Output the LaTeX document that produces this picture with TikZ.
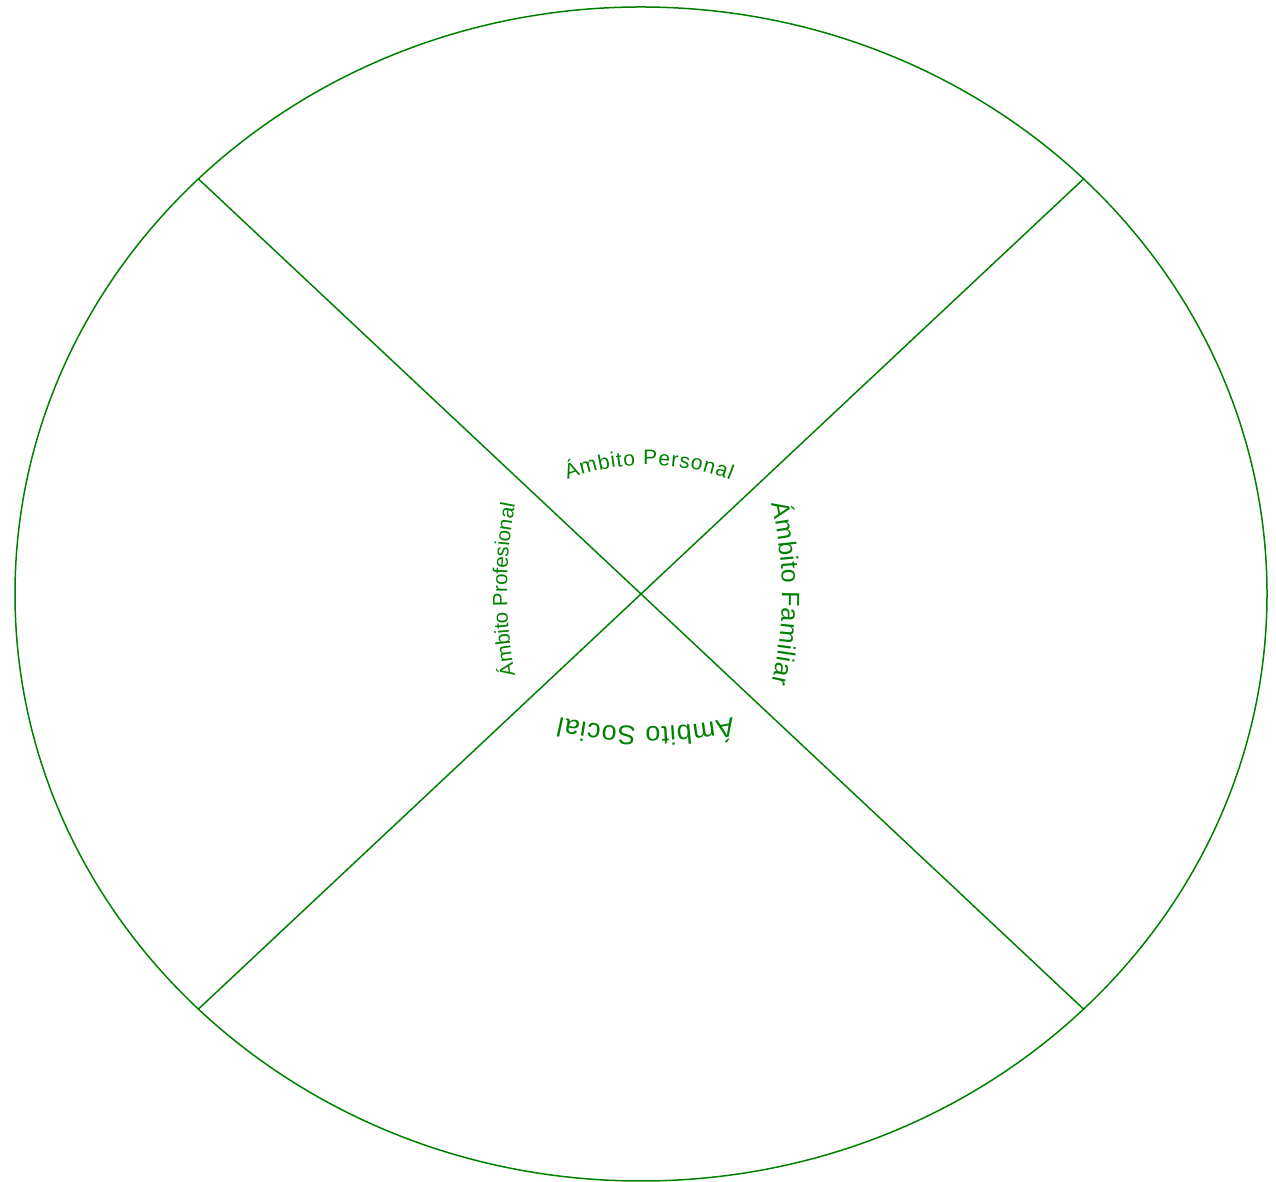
\documentclass[tikz,border=0pt]{standalone}
\usepackage{fontspec}
\setmainfont{Liberation Sans}
\usetikzlibrary{decorations.text,calc}
\definecolor{dg}{RGB}{0,128,0}
\tikzset{
  frame/.style={draw=dg, line width=1.5pt},
  arclabel/.style={decorate, decoration={text along path, text align=fit to path, text color=dg, text={#1}}}
}
\begin{document}
\begin{tikzpicture}[x=1pt,y=1pt]
\useasboundingbox (0,0) rectangle (1276,1182);
\coordinate (C) at (641,588);
\coordinate (nw) at ($(C)+(-442.6,415.1)$);
\coordinate (ne) at ($(C)+(442.6,415.1)$);
\coordinate (sw) at ($(C)+(-442.6,-415.1)$);
\coordinate (se) at ($(C)+(442.6,-415.1)$);
\draw[frame] (C) ellipse [x radius=626, y radius=587];
\draw[frame] (nw) -- (se);
\draw[frame] (ne) -- (sw);
% Personal (top)
\coordinate (cP) at (648,492);
\path[arclabel={|\fontsize{21}{23}\selectfont|Ámbito Personal}]
  ($(cP)+(111:225)$) arc[start angle=111, end angle=68.5, radius=225];
% Familiar (right)
\coordinate (cF) at (382,588);
\path[arclabel={|\fontsize{25}{27}\selectfont|Ámbito Familiar}]
  ($(cF)+(13:400)$) arc[start angle=13, end angle=-13, radius=400];
% Social (bottom)
\coordinate (cS) at (646,849);
\path[arclabel={|\fontsize{27}{29}\selectfont|Ámbito Social}]
  ($(cS)+(-77.3:394)$) arc[start angle=-77.3, end angle=-102.7, radius=394];
% Profesional (left)
\coordinate (cPr) at (957,592);
\path[arclabel={|\fontsize{20.5}{22}\selectfont|Ámbito Profesional}]
  ($(cPr)+(190.9:450)$) arc[start angle=190.9, end angle=169.1, radius=450];
\end{tikzpicture}
\end{document}
